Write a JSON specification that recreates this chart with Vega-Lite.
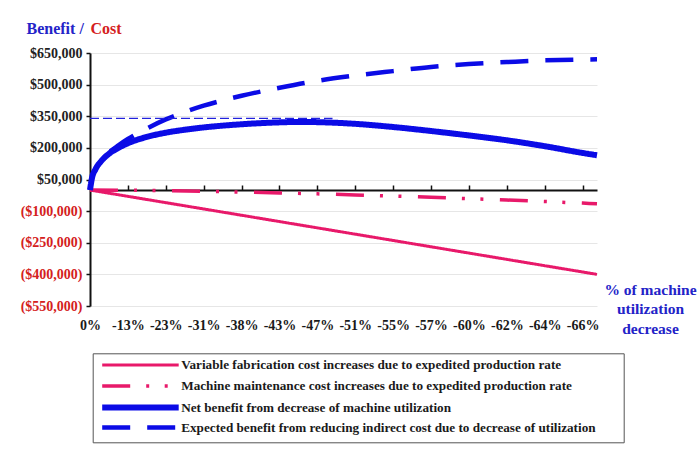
{
  "$schema": "https://vega.github.io/schema/vega-lite/v6.json",
  "width": 507,
  "height": 253,
  "autosize": {"type": "none"},
  "padding": {"left": 90, "top": 53, "right": 100, "bottom": 148},
  "background": "white",
  "config": {"view": {"stroke": null}, "font": "Liberation Serif"},
  "datasets": {
    "lines": [
      {"s": "Variable fabrication cost increases due to expedited production rate", "t": 0, "v": 0},
      {"s": "Variable fabrication cost increases due to expedited production rate", "t": 2, "v": -59800},
      {"s": "Variable fabrication cost increases due to expedited production rate", "t": 4, "v": -119600},
      {"s": "Variable fabrication cost increases due to expedited production rate", "t": 6, "v": -179400},
      {"s": "Variable fabrication cost increases due to expedited production rate", "t": 8, "v": -239200},
      {"s": "Variable fabrication cost increases due to expedited production rate", "t": 10, "v": -299000},
      {"s": "Variable fabrication cost increases due to expedited production rate", "t": 12, "v": -358800},
      {"s": "Variable fabrication cost increases due to expedited production rate", "t": 13.38, "v": -400000},
      {"s": "Machine maintenance cost increases due to expedited production rate", "t": 0, "v": 0},
      {"s": "Machine maintenance cost increases due to expedited production rate", "t": 1, "v": -1000},
      {"s": "Machine maintenance cost increases due to expedited production rate", "t": 2, "v": -3000},
      {"s": "Machine maintenance cost increases due to expedited production rate", "t": 3, "v": -6000},
      {"s": "Machine maintenance cost increases due to expedited production rate", "t": 4, "v": -9500},
      {"s": "Machine maintenance cost increases due to expedited production rate", "t": 5, "v": -13500},
      {"s": "Machine maintenance cost increases due to expedited production rate", "t": 6, "v": -18000},
      {"s": "Machine maintenance cost increases due to expedited production rate", "t": 7, "v": -23000},
      {"s": "Machine maintenance cost increases due to expedited production rate", "t": 8, "v": -28500},
      {"s": "Machine maintenance cost increases due to expedited production rate", "t": 9, "v": -34500},
      {"s": "Machine maintenance cost increases due to expedited production rate", "t": 10, "v": -41000},
      {"s": "Machine maintenance cost increases due to expedited production rate", "t": 11, "v": -47500},
      {"s": "Machine maintenance cost increases due to expedited production rate", "t": 12, "v": -54500},
      {"s": "Machine maintenance cost increases due to expedited production rate", "t": 13, "v": -62000},
      {"s": "Machine maintenance cost increases due to expedited production rate", "t": 13.38, "v": -65000},
      {"s": "Expected benefit from reducing indirect cost due to decrease of utilization", "t": 0, "v": 0},
      {"s": "Expected benefit from reducing indirect cost due to decrease of utilization", "t": 0.05, "v": 55000},
      {"s": "Expected benefit from reducing indirect cost due to decrease of utilization", "t": 0.15, "v": 100000},
      {"s": "Expected benefit from reducing indirect cost due to decrease of utilization", "t": 0.3, "v": 140000},
      {"s": "Expected benefit from reducing indirect cost due to decrease of utilization", "t": 0.5, "v": 178000},
      {"s": "Expected benefit from reducing indirect cost due to decrease of utilization", "t": 0.75, "v": 212000},
      {"s": "Expected benefit from reducing indirect cost due to decrease of utilization", "t": 1, "v": 242000},
      {"s": "Expected benefit from reducing indirect cost due to decrease of utilization", "t": 1.5, "v": 292000},
      {"s": "Expected benefit from reducing indirect cost due to decrease of utilization", "t": 2, "v": 335000},
      {"s": "Expected benefit from reducing indirect cost due to decrease of utilization", "t": 2.5, "v": 370000},
      {"s": "Expected benefit from reducing indirect cost due to decrease of utilization", "t": 3, "v": 400000},
      {"s": "Expected benefit from reducing indirect cost due to decrease of utilization", "t": 3.5, "v": 425000},
      {"s": "Expected benefit from reducing indirect cost due to decrease of utilization", "t": 4, "v": 447000},
      {"s": "Expected benefit from reducing indirect cost due to decrease of utilization", "t": 4.5, "v": 467000},
      {"s": "Expected benefit from reducing indirect cost due to decrease of utilization", "t": 5, "v": 485000},
      {"s": "Expected benefit from reducing indirect cost due to decrease of utilization", "t": 6, "v": 518000},
      {"s": "Expected benefit from reducing indirect cost due to decrease of utilization", "t": 7, "v": 543000},
      {"s": "Expected benefit from reducing indirect cost due to decrease of utilization", "t": 8, "v": 564000},
      {"s": "Expected benefit from reducing indirect cost due to decrease of utilization", "t": 9, "v": 584000},
      {"s": "Expected benefit from reducing indirect cost due to decrease of utilization", "t": 10, "v": 598000},
      {"s": "Expected benefit from reducing indirect cost due to decrease of utilization", "t": 11, "v": 607000},
      {"s": "Expected benefit from reducing indirect cost due to decrease of utilization", "t": 12, "v": 615000},
      {"s": "Expected benefit from reducing indirect cost due to decrease of utilization", "t": 13, "v": 619000},
      {"s": "Expected benefit from reducing indirect cost due to decrease of utilization", "t": 13.38, "v": 620000},
      {"s": "Net benefit from decrease of machine utilization", "t": 0, "v": 0},
      {"s": "Net benefit from decrease of machine utilization", "t": 0.05, "v": 55000},
      {"s": "Net benefit from decrease of machine utilization", "t": 0.15, "v": 100000},
      {"s": "Net benefit from decrease of machine utilization", "t": 0.3, "v": 138000},
      {"s": "Net benefit from decrease of machine utilization", "t": 0.5, "v": 172000},
      {"s": "Net benefit from decrease of machine utilization", "t": 0.75, "v": 200000},
      {"s": "Net benefit from decrease of machine utilization", "t": 1, "v": 222000},
      {"s": "Net benefit from decrease of machine utilization", "t": 1.5, "v": 252000},
      {"s": "Net benefit from decrease of machine utilization", "t": 2, "v": 272000},
      {"s": "Net benefit from decrease of machine utilization", "t": 2.5, "v": 286000},
      {"s": "Net benefit from decrease of machine utilization", "t": 3, "v": 297000},
      {"s": "Net benefit from decrease of machine utilization", "t": 4, "v": 312000},
      {"s": "Net benefit from decrease of machine utilization", "t": 5, "v": 321000},
      {"s": "Net benefit from decrease of machine utilization", "t": 5.5, "v": 323000},
      {"s": "Net benefit from decrease of machine utilization", "t": 6, "v": 322000},
      {"s": "Net benefit from decrease of machine utilization", "t": 7, "v": 314000},
      {"s": "Net benefit from decrease of machine utilization", "t": 8, "v": 299000},
      {"s": "Net benefit from decrease of machine utilization", "t": 9, "v": 280000},
      {"s": "Net benefit from decrease of machine utilization", "t": 10, "v": 259000},
      {"s": "Net benefit from decrease of machine utilization", "t": 11, "v": 236000},
      {"s": "Net benefit from decrease of machine utilization", "t": 12, "v": 208000},
      {"s": "Net benefit from decrease of machine utilization", "t": 13, "v": 176000},
      {"s": "Net benefit from decrease of machine utilization", "t": 13.38, "v": 165000}
    ],
    "ref": [{"t0": 0, "t1": 6.4, "v": 340000}]
  },
  "resolve": {"axis": {"x": "independent"}},
  "layer": [
    {
      "data": {"name": "lines"},
      "mark": {"type": "line", "interpolate": "monotone", "strokeJoin": "round"},
      "encoding": {
        "x": {
          "field": "t", "type": "quantitative",
          "scale": {"domain": [0, 13.38], "nice": false, "zero": false},
          "axis": {
            "orient": "bottom", "tickCount": 40,
            "values": [0, 1, 2, 3, 4, 5, 6, 7, 8, 9, 10, 11, 12, 13],
            "labelExpr": "['0%','-13%','-23%','-31%','-38%','-43%','-47%','-51%','-55%','-57%','-60%','-62%','-64%','-66%'][datum.value]",
            "domain": false, "ticks": false, "grid": false,
            "labelPadding": 12, "labelFont": "Liberation Serif", "labelFontWeight": "bold", "labelFontSize": 14,
            "labelColor": "#1a1a1a", "labelOverlap": false, "labelFlush": false, "labelBound": false,
            "title": ["% of machine", "utilization", "decrease"],
            "titleX": 560, "titleY": -24, "titleAlign": "center", "titleBaseline": "top",
            "titleFont": "Liberation Serif", "titleFontWeight": "bold", "titleFontSize": 15.5,
            "titleColor": "#2323c8", "titleLineHeight": 19.5
          }
        },
        "y": {
          "field": "v", "type": "quantitative",
          "scale": {"domain": [-550000, 650000], "nice": false, "zero": false},
          "axis": {
            "tickCount": 40,
            "values": [650000, 500000, 350000, 200000, 50000, -100000, -250000, -400000, -550000],
            "labelExpr": "datum.value < 0 ? '($' + format(-datum.value, ',') + ')' : '$' + format(datum.value, ',')",
            "labelFont": "Liberation Serif", "labelFontWeight": "bold", "labelFontSize": 14,
            "labelColor": {"condition": {"test": "datum.value < 0", "value": "#d42020"}, "value": "#222222"},
            "labelPadding": 4, "labelOverlap": false, "labelBound": false,
            "tickSize": 4, "tickColor": "#111111", "tickWidth": 1.5,
            "domainColor": "#111111", "domainWidth": 2,
            "grid": true, "gridColor": "#e6e6e6", "gridWidth": 1,
            "title": "Benefit /", "titleX": -64, "titleY": -20, "titleAngle": 0, "titleAlign": "left",
            "titleBaseline": "alphabetic", "titleFont": "Liberation Serif", "titleFontSize": 16,
            "titleFontWeight": "bold", "titleColor": "#2323c8"
          }
        },
        "color": {
          "field": "s", "type": "nominal",
          "scale": {
            "domain": [
              "Variable fabrication cost increases due to expedited production rate",
              "Machine maintenance cost increases due to expedited production rate",
              "Net benefit from decrease of machine utilization",
              "Expected benefit from reducing indirect cost due to decrease of utilization"
            ],
            "range": ["#e8196a", "#e8196a", "#0b0be6", "#0b0be6"]
          },
          "legend": {
            "orient": "none", "legendX": 2.7, "legendY": 300.3, "title": null,
            "symbolType": "M-0.7,0H14.6", "symbolSize": 100,
            "labelFont": "Liberation Serif", "labelFontWeight": "bold", "labelFontSize": 13.2,
            "labelColor": "#1a1a1a", "labelLimit": 800, "labelOffset": 67.5,
            "labelExpr": "datum.label + '\u00a0\u00a0\u00a0\u00a0\u00a0\u00a0\u00a0\u200b'",
            "gridAlign": "all",
            "strokeColor": "#555555", "fillColor": "white", "padding": 5, "rowPadding": -3.4
          }
        },
        "strokeDash": {
          "field": "s", "type": "nominal",
          "scale": {
            "domain": [
              "Variable fabrication cost increases due to expedited production rate",
              "Machine maintenance cost increases due to expedited production rate",
              "Net benefit from decrease of machine utilization",
              "Expected benefit from reducing indirect cost due to decrease of utilization"
            ],
            "range": [[1, 0], [28, 16, 3, 15.5, 3, 16.5], [1, 0], [28, 17]]
          }
        },
        "strokeWidth": {
          "field": "s", "type": "nominal",
          "scale": {
            "type": "ordinal",
            "domain": [
              "Variable fabrication cost increases due to expedited production rate",
              "Machine maintenance cost increases due to expedited production rate",
              "Net benefit from decrease of machine utilization",
              "Expected benefit from reducing indirect cost due to decrease of utilization"
            ],
            "range": [3, 3.5, 6, 4.5]
          }
        }
      }
    },
    {
      "data": {"name": "ref"},
      "mark": {"type": "rule", "color": "#2222dd", "strokeWidth": 1.3, "strokeDash": [9, 4]},
      "encoding": {
        "x": {
          "field": "t0", "type": "quantitative",
          "axis": {
            "orient": "bottom", "offset": -116, "labels": false, "grid": false, "tickCount": 40,
            "domain": true, "domainColor": "#111111", "domainWidth": 2,
            "ticks": true, "tickSize": -5, "tickColor": "#111111", "tickWidth": 1.5,
            "values": [1, 2, 3, 4, 5, 6, 7, 8, 9, 10, 11, 12, 13],
            "title": "Cost", "titleX": 0, "titleY": -157, "titleAlign": "left", "titleAngle": 0,
            "titleBaseline": "alphabetic", "titleFont": "Liberation Serif", "titleFontSize": 16,
            "titleFontWeight": "bold", "titleColor": "#d42020"
          }
        },
        "x2": {"field": "t1"},
        "y": {"field": "v", "type": "quantitative"}
      }
    }
  ]
}
